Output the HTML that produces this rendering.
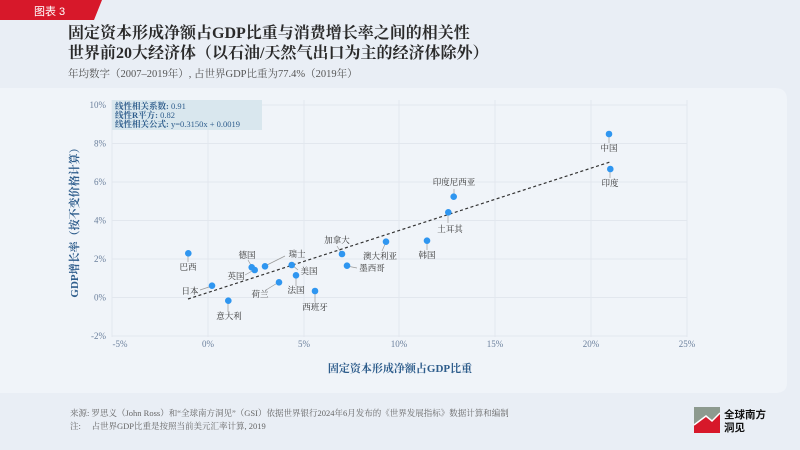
<!DOCTYPE html>
<html><head><meta charset="utf-8"><style>
body{margin:0;width:800px;height:450px;overflow:hidden;background:#e8edf4;font-family:"Liberation Serif","Noto Serif CJK SC",serif;}
</style></head><body>
<svg width="800" height="450" viewBox="0 0 800 450" xmlns="http://www.w3.org/2000/svg" style="position:absolute;left:0;top:0">
<rect x="0" y="0" width="800" height="450" fill="#e9eef5"/>
<path d="M0 88 H775 Q787 88 787 100 V383 Q787 393 775 393 H0 Z" fill="#f0f4f9"/>
<path d="M0 0 H102 L94 20 H0 Z" fill="#d7182a"/>
<text x="34" y="15" font-size="11" fill="#fff" font-family="Liberation Sans,'Noto Sans CJK SC',sans-serif">图表 3</text>
<text x="68" y="38" font-size="16" font-weight="bold" fill="#2a2a2a">固定资本形成净额占GDP比重与消费增长率之间的相关性</text>
<text x="68" y="58" font-size="16" font-weight="bold" fill="#2a2a2a">世界前20大经济体（以石油/天然气出口为主的经济体除外）</text>
<text x="68" y="77" font-size="10.5" fill="#555">年均数字（2007–2019年）, 占世界GDP比重为77.4%（2019年）</text>
<g stroke="#e2e7ee" stroke-width="1">
<line x1="112" y1="100" x2="112" y2="337"/><line x1="208" y1="100" x2="208" y2="337"/><line x1="304" y1="100" x2="304" y2="337"/><line x1="399" y1="100" x2="399" y2="337"/><line x1="495" y1="100" x2="495" y2="337"/><line x1="591" y1="100" x2="591" y2="337"/><line x1="687" y1="100" x2="687" y2="337"/>
<line x1="112" y1="105" x2="687" y2="105"/><line x1="112" y1="143.5" x2="687" y2="143.5"/><line x1="112" y1="182" x2="687" y2="182"/><line x1="112" y1="220.5" x2="687" y2="220.5"/><line x1="112" y1="259" x2="687" y2="259"/><line x1="112" y1="297.5" x2="687" y2="297.5"/><line x1="112" y1="336" x2="687" y2="336"/>
</g>
<g font-size="9" fill="#6a7f9c" text-anchor="end">
<text x="106" y="108">10%</text><text x="106" y="146.5">8%</text><text x="106" y="185">6%</text><text x="106" y="223.5">4%</text><text x="106" y="262">2%</text><text x="106" y="300.5">0%</text><text x="106" y="339">-2%</text>
</g>
<g font-size="9" fill="#6a7f9c" text-anchor="middle">
<text x="120" y="347">-5%</text><text x="208" y="347">0%</text><text x="304" y="347">5%</text><text x="399" y="347">10%</text><text x="495" y="347">15%</text><text x="591" y="347">20%</text><text x="687" y="347">25%</text>
</g>
<text x="400" y="372" font-size="11" font-weight="bold" fill="#2e5d8c" text-anchor="middle">固定资本形成净额占GDP比重</text>
<text transform="translate(78,220) rotate(-90)" font-size="11" font-weight="bold" fill="#2e5d8c" text-anchor="middle">GDP增长率（按不变价格计算）</text>
<rect x="112" y="100" width="150" height="30" fill="#d9e7ee"/>
<g font-size="8.5" fill="#2e5d8c">
<text x="115" y="109"><tspan font-weight="bold">线性相关系数:</tspan> 0.91</text>
<text x="115" y="118"><tspan font-weight="bold">线性R平方:</tspan> 0.82</text>
<text x="115" y="127"><tspan font-weight="bold">线性相关公式:</tspan> y=0.3150x + 0.0019</text>
</g>
<line x1="188" y1="299" x2="610" y2="162" stroke="#333" stroke-width="1.2" stroke-dasharray="3,2.5"/>
<g stroke="#999" stroke-width="0.7">
<line x1="188" y1="253" x2="188" y2="262"/><line x1="212" y1="286" x2="200" y2="290"/><line x1="228" y1="301" x2="228" y2="312"/>
<line x1="252" y1="267" x2="248" y2="260"/><line x1="254" y1="270" x2="245" y2="275"/><line x1="265" y1="266" x2="285" y2="256"/>
<line x1="292" y1="265" x2="298" y2="270"/><line x1="296" y1="275" x2="296" y2="286"/><line x1="279" y1="282" x2="266" y2="290"/>
<line x1="315" y1="291" x2="315" y2="302"/><line x1="342" y1="254" x2="337" y2="246"/><line x1="347" y1="266" x2="357" y2="268"/>
<line x1="386" y1="242" x2="382" y2="251"/><line x1="427" y1="241" x2="427" y2="250"/><line x1="454" y1="197" x2="454" y2="189"/>
<line x1="448" y1="212" x2="448" y2="223"/><line x1="609" y1="134" x2="609" y2="143"/><line x1="610" y1="169" x2="610" y2="178"/>
</g>
<g fill="#2f96f0">
<circle cx="188.3" cy="253.3" r="3.3"/><circle cx="212" cy="285.7" r="3.3"/><circle cx="228.3" cy="300.7" r="3.3"/><circle cx="251.7" cy="267.3" r="3.3"/><circle cx="254.7" cy="270" r="3.3"/><circle cx="265" cy="266.3" r="3.3"/><circle cx="291.7" cy="265" r="3.3"/><circle cx="296" cy="275.3" r="3.3"/><circle cx="279" cy="282.3" r="3.3"/><circle cx="315" cy="291" r="3.3"/><circle cx="342" cy="254" r="3.3"/><circle cx="347" cy="265.7" r="3.3"/><circle cx="386" cy="241.7" r="3.3"/><circle cx="427" cy="240.7" r="3.3"/><circle cx="453.7" cy="196.7" r="3.3"/><circle cx="448.3" cy="212.3" r="3.3"/><circle cx="609" cy="134" r="3.3"/><circle cx="610.3" cy="169" r="3.3"/>
</g>
<g font-size="8.5" fill="#333" text-anchor="middle">
<text x="188" y="270">巴西</text><text x="190" y="294">日本</text><text x="229" y="319">意大利</text><text x="247" y="258">德国</text><text x="236" y="279">英国</text><text x="297" y="257">瑞士</text><text x="309" y="274">美国</text><text x="296" y="293">法国</text><text x="260" y="297">荷兰</text><text x="315" y="310">西班牙</text><text x="337" y="243">加拿大</text><text x="372" y="271">墨西哥</text><text x="380" y="259">澳大利亚</text><text x="427" y="258">韩国</text><text x="454" y="185">印度尼西亚</text><text x="450" y="232">土耳其</text><text x="609" y="151">中国</text><text x="610" y="186">印度</text>
</g>
<g font-size="8.5" fill="#666">
<text x="70" y="416">来源: 罗思义（John Ross）和“全球南方洞见”（GSI）依据世界银行2024年6月发布的《世界发展指标》数据计算和编制</text>
<text x="70" y="429">注:　 占世界GDP比重是按照当前美元汇率计算, 2019</text>
</g>
<rect x="694" y="407" width="26" height="26" fill="#d7182a"/>
<path d="M694 407 H720 V413 L712 421 L706 416 L694 425 Z" fill="#8d9a8f"/>
<path d="M694 425 L706 416 L712 421 L720 413" stroke="#fff" stroke-width="1.5" fill="none"/>
<text x="724" y="418" font-size="10.5" font-weight="bold" fill="#111" font-family="'Noto Sans CJK SC',sans-serif">全球南方</text>
<text x="724" y="431" font-size="10.5" font-weight="bold" fill="#111" font-family="'Noto Sans CJK SC',sans-serif">洞见</text>
</svg>
</body></html>
